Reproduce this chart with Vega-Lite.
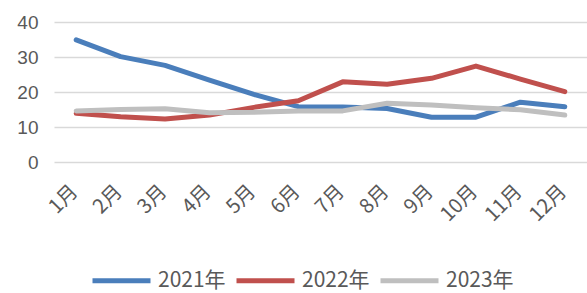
{
  "$schema": "https://vega.github.io/schema/vega-lite/v6.json",
  "width": 533,
  "height": 140,
  "autosize": "none",
  "padding": {"left": 54, "top": 22, "right": 0, "bottom": 131},
  "background": "white",
  "config": {
    "view": {"stroke": null},
    "font": "Liberation Sans"
  },
  "data": {
    "values": [
      {"month": "1月", "year": "2021年", "value": 34.9},
      {"month": "2月", "year": "2021年", "value": 30.1},
      {"month": "3月", "year": "2021年", "value": 27.6},
      {"month": "4月", "year": "2021年", "value": 23.4},
      {"month": "5月", "year": "2021年", "value": 19.3},
      {"month": "6月", "year": "2021年", "value": 15.8},
      {"month": "7月", "year": "2021年", "value": 15.7},
      {"month": "8月", "year": "2021年", "value": 15.3},
      {"month": "9月", "year": "2021年", "value": 12.8},
      {"month": "10月", "year": "2021年", "value": 12.8},
      {"month": "11月", "year": "2021年", "value": 17.1},
      {"month": "12月", "year": "2021年", "value": 15.8},
      {"month": "1月", "year": "2022年", "value": 13.9},
      {"month": "2月", "year": "2022年", "value": 12.9},
      {"month": "3月", "year": "2022年", "value": 12.3},
      {"month": "4月", "year": "2022年", "value": 13.4},
      {"month": "5月", "year": "2022年", "value": 15.6},
      {"month": "6月", "year": "2022年", "value": 17.5},
      {"month": "7月", "year": "2022年", "value": 22.9},
      {"month": "8月", "year": "2022年", "value": 22.2},
      {"month": "9月", "year": "2022年", "value": 23.9},
      {"month": "10月", "year": "2022年", "value": 27.4},
      {"month": "11月", "year": "2022年", "value": 23.7},
      {"month": "12月", "year": "2022年", "value": 20.1},
      {"month": "1月", "year": "2023年", "value": 14.6},
      {"month": "2月", "year": "2023年", "value": 15.0},
      {"month": "3月", "year": "2023年", "value": 15.2},
      {"month": "4月", "year": "2023年", "value": 14.1},
      {"month": "5月", "year": "2023年", "value": 14.2},
      {"month": "6月", "year": "2023年", "value": 14.6},
      {"month": "7月", "year": "2023年", "value": 14.6},
      {"month": "8月", "year": "2023年", "value": 16.8},
      {"month": "9月", "year": "2023年", "value": 16.3},
      {"month": "10月", "year": "2023年", "value": 15.5},
      {"month": "11月", "year": "2023年", "value": 14.9},
      {"month": "12月", "year": "2023年", "value": 13.4}
    ]
  },
  "mark": {"type": "line", "strokeWidth": 5, "strokeCap": "round", "strokeJoin": "round"},
  "encoding": {
    "x": {
      "field": "month",
      "type": "ordinal",
      "sort": null,
      "scale": {"type": "point", "padding": 0.5},
      "axis": {
        "title": null,
        "domain": false,
        "ticks": false,
        "labelAngle": -45,
        "labelAlign": "right",
        "labelBaseline": "middle",
        "labelPadding": 26,
        "labelOffset": -2,
        "labelFontSize": 20,
        "labelColor": "#595959",
        "labelFont": "Noto Sans CJK SC"
      }
    },
    "y": {
      "field": "value",
      "type": "quantitative",
      "scale": {"domain": [0, 40]},
      "axis": {
        "title": null,
        "domain": false,
        "ticks": false,
        "values": [0, 10, 20, 30, 40],
        "labelPadding": 16,
        "labelFontSize": 19,
        "labelColor": "#595959",
        "gridColor": "#d9d9d9",
        "gridWidth": 1.5
      }
    },
    "color": {
      "field": "year",
      "type": "nominal",
      "scale": {"domain": ["2021年", "2022年", "2023年"], "range": ["#4a7ebb", "#c0504d", "#bfbfbf"]},
      "legend": {
        "title": null,
        "orient": "none",
        "direction": "horizontal",
        "legendX": 36,
        "legendY": 227,
        "symbolType": "stroke",
        "symbolSize": 3364,
        "symbolStrokeWidth": 5,
        "labelFontSize": 21,
        "labelColor": "#595959",
        "labelFont": "Noto Sans CJK SC",
        "labelOffset": 5,
        "columnPadding": 0
      }
    }
  }
}
